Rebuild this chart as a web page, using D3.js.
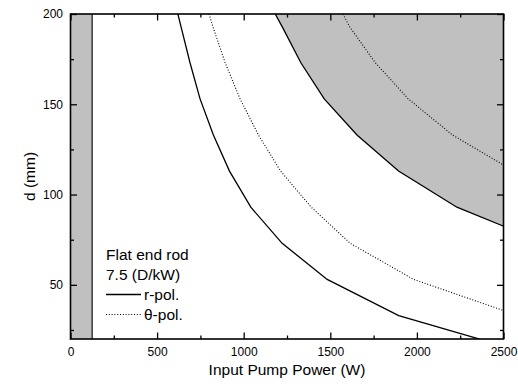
<!DOCTYPE html>
<html>
<head>
<meta charset="utf-8">
<script src="https://cdn.jsdelivr.net/npm/d3@7"></script>
<style>
  body { margin: 0; background: #fff; }
  svg { font-family: Arial, "Liberation Sans", sans-serif; }
</style>
</head>
<body>
<div id="chart"></div>
<script>
const dLevels = [200, 193, 173, 153, 133, 113, 93, 73, 53, 33, 13];

// input pump power (W) at each d level
const rPolLow = [620, 638, 690, 748, 825, 918, 1041, 1222, 1482, 1895, 2610];
const thetaPolLow = [800, 822, 893, 979, 1085, 1213, 1390, 1615, 1981, 2584];
const rPolHigh = [1182, 1222, 1330, 1465, 1654, 1894, 2231, 2743];
const thetaPolHigh = [1573, 1611, 1760, 1950, 2205, 2560];

// shaded band on the left (W)
const leftBand = [0, 125];

const xTicks = [0, 500, 1000, 1500, 2000, 2500];
const xMinor = [250, 750, 1250, 1750, 2250];
const yTicks = [50, 100, 150, 200];
const yMinor = [25, 75, 125, 175];

const legendTitle = ['Flat end rod', '7.5 (D/kW)'];
const legendItems = [
  {label: 'r-pol.', dash: null},
  {label: '\u03b8-pol.', dash: '1,1.8'}
];

const width = 518;
const height = 390;
const m = {left: 70.5, right: 503.5, top: 14, bottom: 339};

const toPoints = (powers) => powers.map((p, i) => ({p: p, d: dLevels[i]}));

const x = d3.scaleLinear().domain([0, 2500]).range([m.left, m.right]);
const y = d3.scaleLinear().domain([20, 200]).range([m.bottom, m.top]);

const svg = d3.select('#chart').append('svg')
  .attr('width', width)
  .attr('height', height);

svg.append('clipPath').attr('id', 'plot-clip')
  .append('rect')
  .attr('x', m.left).attr('y', m.top)
  .attr('width', m.right - m.left).attr('height', m.bottom - m.top);

const plot = svg.append('g').attr('clip-path', 'url(#plot-clip)');

// left shaded band
plot.append('rect')
  .attr('x', x(leftBand[0]))
  .attr('y', m.top)
  .attr('width', x(leftBand[1]) - x(leftBand[0]))
  .attr('height', m.bottom - m.top)
  .attr('fill', '#c0c0c0');
plot.append('line')
  .attr('x1', x(leftBand[1])).attr('x2', x(leftBand[1]))
  .attr('y1', m.top).attr('y2', m.bottom)
  .attr('stroke', '#000').attr('stroke-width', 1.1);

// shaded region above the high r-pol curve
const area = d3.area()
  .x(d => x(d.p))
  .y0(d => y(d.d))
  .y1(y(200));
plot.append('path')
  .datum(toPoints(rPolHigh))
  .attr('d', area)
  .attr('fill', '#c0c0c0');

const line = d3.line()
  .x(d => x(d.p))
  .y(d => y(d.d));

const curves = [
  {values: rPolLow, dash: null},
  {values: thetaPolLow, dash: '1,1.8'},
  {values: rPolHigh, dash: null},
  {values: thetaPolHigh, dash: '1,1.8'}
];

curves.forEach(c => {
  plot.append('path')
    .datum(toPoints(c.values))
    .attr('d', line)
    .attr('fill', 'none')
    .attr('stroke', '#000')
    .attr('stroke-width', c.dash ? 1.1 : 1.3)
    .attr('stroke-dasharray', c.dash);
});

// axes, ticks pointing inward
const styleAxis = (g) => {
  g.select('.domain').remove();
  g.selectAll('.tick line').attr('stroke', '#000').attr('stroke-width', 1.3);
  g.selectAll('text').attr('fill', '#000').style('font-size', '12px');
};

svg.append('g')
  .attr('transform', `translate(0,${m.bottom})`)
  .call(d3.axisBottom(x).tickValues(xTicks).tickSize(-6.5).tickPadding(8).tickFormat(d3.format('d')))
  .call(styleAxis);
svg.append('g')
  .attr('transform', `translate(0,${m.bottom})`)
  .call(d3.axisBottom(x).tickValues(xMinor).tickSize(-3.5).tickFormat(''))
  .call(styleAxis);
svg.append('g')
  .attr('transform', `translate(0,${m.top})`)
  .call(d3.axisTop(x).tickValues(xTicks).tickSize(-6.5).tickFormat(''))
  .call(styleAxis);
svg.append('g')
  .attr('transform', `translate(0,${m.top})`)
  .call(d3.axisTop(x).tickValues(xMinor).tickSize(-3.5).tickFormat(''))
  .call(styleAxis);

svg.append('g')
  .attr('transform', `translate(${m.left},0)`)
  .call(d3.axisLeft(y).tickValues(yTicks).tickSize(-6.5).tickPadding(7.5))
  .call(styleAxis);
svg.append('g')
  .attr('transform', `translate(${m.left},0)`)
  .call(d3.axisLeft(y).tickValues(yMinor).tickSize(-3.5).tickFormat(''))
  .call(styleAxis);
svg.append('g')
  .attr('transform', `translate(${m.right},0)`)
  .call(d3.axisRight(y).tickValues(yTicks).tickSize(-6.5).tickFormat(''))
  .call(styleAxis);
svg.append('g')
  .attr('transform', `translate(${m.right},0)`)
  .call(d3.axisRight(y).tickValues(yMinor).tickSize(-3.5).tickFormat(''))
  .call(styleAxis);

// frame
svg.append('rect')
  .attr('x', m.left).attr('y', m.top)
  .attr('width', m.right - m.left).attr('height', m.bottom - m.top)
  .attr('fill', 'none')
  .attr('stroke', '#000')
  .attr('stroke-width', 1.6);

// axis titles
svg.append('text')
  .attr('x', (m.left + m.right) / 2)
  .attr('y', 375)
  .attr('text-anchor', 'middle')
  .style('font-size', '15.5px')
  .text('Input Pump Power (W)');

svg.append('text')
  .attr('transform', `translate(35,${(m.top + m.bottom) / 2}) rotate(-90)`)
  .attr('text-anchor', 'middle')
  .style('font-size', '15.5px')
  .text('d (mm)');

// legend
const legend = svg.append('g').attr('transform', 'translate(106,260)');
legend.selectAll('text.title')
  .data(legendTitle)
  .join('text')
  .attr('class', 'title')
  .attr('x', 0)
  .attr('y', (d, i) => i * 20)
  .style('font-size', '15.5px')
  .text(d => d);

legendItems.forEach((item, i) => {
  const yy = 34.5 + i * 20;
  legend.append('line')
    .attr('x1', 0).attr('x2', 35)
    .attr('y1', yy).attr('y2', yy)
    .attr('stroke', '#000')
    .attr('stroke-width', item.dash ? 1.1 : 1.3)
    .attr('stroke-dasharray', item.dash);
  legend.append('text')
    .attr('x', 38)
    .attr('y', yy + 5.5)
    .style('font-size', '15.5px')
    .text(item.label);
});
</script>
</body>
</html>
